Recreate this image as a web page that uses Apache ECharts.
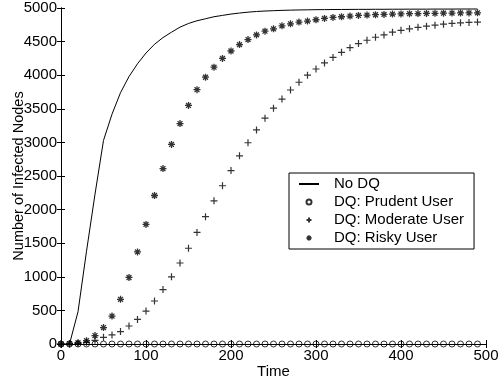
<!DOCTYPE html>
<html>
<head>
<meta charset="utf-8">
<script src="https://cdn.jsdelivr.net/npm/echarts@6/dist/echarts.min.js"></script>
<style>
  html, body { margin: 0; padding: 0; background: #fff; }
  #chart { width: 499px; height: 384px; }
</style>
</head>
<body>
<div id="chart"></div>
<script>
// Sampling instants (time steps)
const time = [0,10,20,30,40,50,60,70,80,90,100,110,120,130,140,150,160,170,180,190,
  200,210,220,230,240,250,260,270,280,290,300,310,320,330,340,350,360,370,380,390,
  400,410,420,430,440,450,460,470,480,490];

// Infected node counts per scenario
const noDQ = [0,0,480,1380,2230,3030,3420,3740,3980,4170,4330,4460,4560,4640,4715,4770,4810,4840,4870,4890,
  4910,4925,4938,4948,4955,4960,4965,4968,4971,4973,4975,4976,4977,4978,4979,4980,4980,4981,4981,4982,
  4982,4983,4983,4983,4984,4984,4984,4985,4985,4985];
const prudent = [0,0,0,0,0,0,0,0,0,0,0,0,0,0,0,0,0,0,0,0,
  0,0,0,0,0,0,0,0,0,0,0,0,0,0,0,0,0,0,0,0,
  0,0,0,0,0,0,0,0,0,0];
const moderate = [0,0,10,25,55,100,135,185,268,365,490,640,810,1000,1205,1425,1660,1895,2130,2355,
  2580,2800,2995,3185,3360,3510,3645,3780,3895,4000,4092,4182,4265,4340,4410,4470,4520,4565,4600,4640,
  4668,4690,4712,4730,4745,4760,4770,4780,4785,4790];
const risky = [0,5,20,50,125,245,415,665,990,1370,1780,2210,2610,2970,3280,3550,3785,3970,4120,4250,
  4360,4455,4530,4600,4655,4690,4735,4765,4790,4805,4825,4845,4860,4870,4880,4890,4895,4900,4905,4910,
  4912,4915,4917,4919,4921,4923,4925,4926,4927,4928];

const xTicks = { min: 0, max: 500, interval: 100 };
const yTicks = { min: 0, max: 5000, interval: 500 };

const seriesNames = ['No DQ', 'DQ: Prudent User', 'DQ: Moderate User', 'DQ: Risky User'];

const pairs = vals => time.map((t, i) => [t, vals[i]]);

const FONT = 'Liberation Sans, Arial, Helvetica, sans-serif';
const PLUS = 'path://M5,0L5,10M0,5L10,5';
const STAR = 'path://M5,0L5,10M0,5L10,5M1.5,1.5L8.5,8.5M1.5,8.5L8.5,1.5';

const markerStyle = { color: 'transparent', borderColor: '#000', borderWidth: 1 };
const plainNumber = v => String(v);

const chart = echarts.init(document.getElementById('chart'), null, { renderer: 'canvas' });

const axisCommon = {
  type: 'value',
  axisLine: { show: true, lineStyle: { color: '#000', width: 1 } },
  axisTick: { show: true, inside: true, length: 4, lineStyle: { color: '#000' } },
  splitLine: { show: false }
};

chart.setOption({
  animation: false,
  backgroundColor: '#fff',
  textStyle: { fontFamily: FONT },
  grid: { left: 61, right: 13, top: 8, bottom: 40, containLabel: false, outerBoundsMode: 'none' },
  xAxis: [
    Object.assign({}, axisCommon, xTicks, {
      position: 'bottom',
      name: 'Time',
      nameLocation: 'middle',
      nameGap: 20,
      nameMoveOverlap: false,
      nameTextStyle: { color: '#000', fontSize: 15, fontFamily: FONT },
      axisLabel: { color: '#000', fontSize: 15, fontFamily: FONT, margin: 4, formatter: plainNumber }
    }),
    Object.assign({}, axisCommon, xTicks, {
      position: 'top',
      axisLabel: { show: false }
    })
  ],
  yAxis: [
    Object.assign({}, axisCommon, yTicks, {
      position: 'left',
      name: 'Number of Infected Nodes',
      nameLocation: 'middle',
      nameGap: 35,
      nameMoveOverlap: false,
      nameTextStyle: { color: '#000', fontSize: 14.5, fontFamily: FONT },
      axisLabel: { color: '#000', fontSize: 15, fontFamily: FONT, margin: 4, formatter: plainNumber }
    }),
    Object.assign({}, axisCommon, yTicks, {
      position: 'right',
      axisLabel: { show: false }
    })
  ],
  legend: {
    orient: 'vertical',
    left: 289,
    top: 173,
    data: [
      { name: seriesNames[0], itemStyle: { color: 'transparent', borderWidth: 0 } },
      seriesNames[1], seriesNames[2], seriesNames[3]
    ],
    backgroundColor: '#fff',
    borderColor: '#000',
    borderWidth: 1,
    borderRadius: 0,
    padding: [2, 10, 2, 9],
    itemGap: 0,
    itemWidth: 20,
    itemHeight: 5,
    textStyle: { color: '#000', fontSize: 15, fontFamily: FONT, lineHeight: 18, padding: [0, 0, 0, 10] },
    selectedMode: false
  },
  series: [
    {
      name: seriesNames[0],
      type: 'line',
      data: pairs(noDQ),
      showSymbol: false,
      symbol: 'none',
      lineStyle: { color: '#000', width: 1 },
      itemStyle: { color: '#000' },
      z: 3
    },
    {
      name: seriesNames[1],
      type: 'scatter',
      data: pairs(prudent),
      symbol: 'circle',
      symbolSize: 6,
      itemStyle: markerStyle,
      z: 4
    },
    {
      name: seriesNames[2],
      type: 'scatter',
      data: pairs(moderate),
      symbol: PLUS,
      symbolSize: 7,
      itemStyle: { color: 'transparent', borderColor: '#000', borderWidth: 1.2 },
      z: 4
    },
    {
      name: seriesNames[3],
      type: 'scatter',
      data: pairs(risky),
      symbol: STAR,
      symbolSize: 7,
      itemStyle: { color: 'transparent', borderColor: '#000', borderWidth: 1.3 },
      z: 4
    }
  ]
});
</script>
</body>
</html>
